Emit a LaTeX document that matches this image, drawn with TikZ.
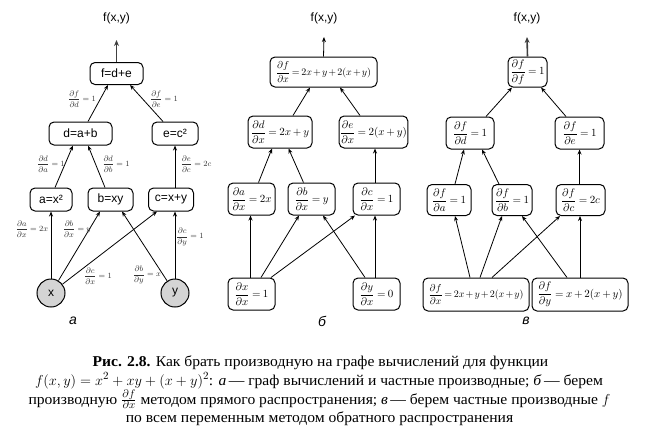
\documentclass[tikz,border=0pt]{standalone}
\usepackage{fontspec}
\usepackage{amsmath}
\usetikzlibrary{arrows.meta,calc}
\newfontfamily\boxfont{Liberation Sans}
\newfontfamily\capfont[FakeStretch=1.04]{Liberation Serif}
\newcommand{\mspcset}{\medmuskip=3mu\relax\thickmuskip=4mu\relax}
\newcommand{\mspctight}{\medmuskip=2mu\relax\thickmuskip=3mu\relax}
\tikzset{
 nbox/.style={draw, line width=1pt, rounded corners=5pt, inner sep=1pt, align=center},
 abox/.style={nbox, font=\boxfont\fontsize{12}{14}\selectfont, minimum height=23pt},
 mbox/.style={nbox, font={\fontsize{10.5}{12}\selectfont\mspcset}, minimum height=32pt},
 wbox/.style={mbox, font={\fontsize{10}{12}\selectfont\mspctight}},
 vcirc/.style={circle, draw, line width=1pt, fill=black!17, minimum size=28pt, inner sep=0pt, font=\boxfont\fontsize{12}{14}\selectfont},
 edge/.style={-{Stealth[length=5pt,width=4pt]}, line width=0.8pt},
 topedge/.style={-{Stealth[length=6pt,width=5pt]}, line width=1.6pt, black!75},
 elab/.style={font=\fontsize{8.5}{9}\selectfont, text=black!80, inner sep=0pt},
 ttl/.style={font=\boxfont\fontsize{12}{14}\selectfont},
 plab/.style={font=\boxfont\itshape\fontsize{14}{16}\selectfont},
 capline/.style={font=\capfont\fontsize{15}{16}\selectfont, inner sep=0pt, anchor=base}
}
\begin{document}
\begin{tikzpicture}[x=1pt,y=-1pt]
\useasboundingbox (0,0) rectangle (648,437);
% ---------------- panel a
\node[ttl] (tA) at (116.5,18) {f(x,y)};
\coordinate (uA) at (116.5,40);
\node[abox, minimum width=53pt, minimum height=22pt] (fA) at (116.5,73.5) {f=d+e};
\node[abox, minimum width=63pt] (dA) at (80.5,133.5) {d=a+b};
\node[abox, minimum width=46pt] (eA) at (175,133.5) {e=c²};
\node[abox, minimum width=42pt] (aA) at (51,199.5) {a=x²};
\node[abox, minimum width=45pt] (bA) at (110.5,199.5) {b=xy};
\node[abox, minimum width=45pt] (cA) at (171,199.5) {c=x+y};
\node[vcirc] (xA) at (51,293) {x};
\node[vcirc] (yA) at (175,293) {y};
\node[plab] (pA) at (73,321) {а};

\draw[topedge] (fA.north) -- (uA);
\draw[edge] ($(dA.north)+(7.5,0)$) -- ($(fA.south)+(-8.5,0)$);
\draw[edge] ($(eA.north)+(-12,0)$) -- ($(fA.south)+(13.5,0)$);
\draw[edge] ($(aA.north)+(4,0)$) -- ($(dA.south)+(-7.5,0)$);
\draw[edge] ($(bA.north)+(-5.5,0)$) -- ($(dA.south)+(7.5,0)$);
\draw[edge] ($(cA.north)+(4,0)$) -- (eA.south);
\draw[edge] (xA.north) -- (aA.south);
\draw[edge] (xA) -- ($(bA.south)+(-10.5,0)$);
\draw[edge] (xA) -- ($(cA.south)+(-14,0)$);
\draw[edge] (yA) -- ($(bA.south)+(11.5,0)$);
\draw[edge] (yA.north) -- ($(cA.south)+(4,0)$);

\node[elab] (l1) at (82,99) {$\dfrac{\partial f}{\partial d}=1$};
\node[elab] (l2) at (164,99) {$\dfrac{\partial f}{\partial e}=1$};
\node[elab] (l3) at (51,164) {$\dfrac{\partial d}{\partial a}=1$};
\node[elab] (l4) at (116,164) {$\dfrac{\partial d}{\partial b}=1$};
\node[elab] (l5) at (196,164) {$\dfrac{\partial e}{\partial c}=2c$};
\node[elab] (l6) at (32,229) {$\dfrac{\partial a}{\partial x}=2x$};
\node[elab] (l7) at (77,229) {$\dfrac{\partial b}{\partial x}=y$};
\node[elab] (l8) at (190,237) {$\dfrac{\partial c}{\partial y}=1$};
\node[elab] (l9) at (98,276) {$\dfrac{\partial c}{\partial x}=1$};
\node[elab] (l10) at (147,275) {$\dfrac{\partial b}{\partial y}=x$};

% ---------------- panel b
\node[ttl] (tB) at (324,18) {f(x,y)};
\coordinate (uB) at (324,37);
\node[wbox, minimum width=107pt, minimum height=30pt] (fB) at (323.5,72) {$\dfrac{\partial f}{\partial x}=2x+y+2(x+y)$};
\node[mbox, minimum width=64pt] (dB) at (280,132) {$\dfrac{\partial d}{\partial x}=2x+y$};
\node[mbox, minimum width=63pt] (eB) at (373.5,132) {$\dfrac{\partial e}{\partial x}=2(x+y)$};
\node[mbox, minimum width=47pt] (aB) at (251.5,199) {$\dfrac{\partial a}{\partial x}=2x$};
\node[mbox, minimum width=47pt] (bB) at (311.5,199) {$\dfrac{\partial b}{\partial x}=y$};
\node[mbox, minimum width=47pt] (cB) at (376.5,199) {$\dfrac{\partial c}{\partial x}=1$};
\node[mbox, minimum width=47pt] (xB) at (251.5,294) {$\dfrac{\partial x}{\partial x}=1$};
\node[mbox, minimum width=47pt] (yB) at (376.5,294) {$\dfrac{\partial y}{\partial x}=0$};
\node[plab] (pB) at (322,321) {б};

\draw[edge] (fB.north) -- (uB);
\draw[edge] ($(dB.north)+(13,0)$) -- ($(fB.south)+(-13.5,0)$);
\draw[edge] ($(eB.north)+(-13.5,0)$) -- ($(fB.south)+(16.5,0)$);
\draw[edge] ($(aB.north)+(7,0)$) -- ($(dB.south)+(-8,0)$);
\draw[edge] ($(bB.north)+(-8,0)$) -- ($(dB.south)+(8.5,0)$);
\draw[edge] ($(cB.north)+(-1.5,0)$) -- ($(eB.south)+(1.5,0)$);
\draw[edge] ($(xB.north)+(-1,0)$) -- ($(aB.south)+(-1,0)$);
\draw[edge] ($(xB.north)+(9.5,0)$) -- ($(bB.south)+(-12.5,0)$);
\draw[edge] ($(xB.north)+(19.5,0)$) -- ($(cB.south)+(-21.5,0)$);
\draw[edge] ($(yB.north)+(-11.5,0)$) -- ($(bB.south)+(11.5,0)$);
\draw[edge] ($(yB.north)+(-1.5,0)$) -- ($(cB.south)+(-1.5,0)$);

% ---------------- panel c
\node[ttl] (tC) at (527,18) {f(x,y)};
\coordinate (uC) at (527,37);
\node[mbox, minimum width=39pt, minimum height=30pt] (fC) at (527.5,72) {$\dfrac{\partial f}{\partial f}=1$};
\node[mbox, minimum width=48pt] (dC) at (470,133) {$\dfrac{\partial f}{\partial d}=1$};
\node[mbox, minimum width=49pt] (eC) at (579.5,133) {$\dfrac{\partial f}{\partial e}=1$};
\node[mbox, minimum width=44pt, minimum height=31pt] (aC) at (449,200) {$\dfrac{\partial f}{\partial a}=1$};
\node[mbox, minimum width=40pt, minimum height=31pt] (bC) at (512,200) {$\dfrac{\partial f}{\partial b}=1$};
\node[mbox, minimum width=49pt, minimum height=31pt] (cC) at (580.5,200) {$\dfrac{\partial f}{\partial c}=2c$};
\node[wbox, minimum width=106pt, minimum height=33pt] (xC) at (476,294.5) {$\dfrac{\partial f}{\partial x}=2x+y+2(x+y)$};
\node[mbox, minimum width=96pt, minimum height=33pt] (yC) at (580,294.5) {$\dfrac{\partial f}{\partial y}=x+2(x+y)$};
\node[plab] (pC) at (526,321) {в};

\draw[topedge] (fC.north) -- (uC);
\draw[edge] ($(dC.north)+(16,0)$) -- ($(fC.south)+(-15.5,0)$);
\draw[edge] ($(eC.north)+(-13.5,0)$) -- ($(fC.south)+(13.5,0)$);
\draw[edge] ($(aC.north)+(6,0)$) -- ($(dC.south)+(-6,0)$);
\draw[edge] ($(bC.north)+(-13,0)$) -- ($(dC.south)+(12,0)$);
\draw[edge] ($(cC.north)+(-1,0)$) -- (eC.south);
\draw[edge] ($(xC.north)+(-6,0)$) -- ($(aC.south)+(6,0)$);
\draw[edge] ($(xC.north)+(4,0)$) -- ($(bC.south)+(-10,0)$);
\draw[edge] ($(xC.north)+(16,0)$) -- ($(cC.south)+(-20.5,0)$);
\draw[edge] ($(yC.north)+(-13,0)$) -- ($(bC.south)+(10,0)$);
\draw[edge] (yC.north) -- ($(cC.south)+(-0.5,0)$);

% ---------------- caption
\node[capline] (c1) at (320.5,366) {\textbf{Рис. 2.8.} Как брать производную на графе вычислений для функции};
\node[capline] (c2) at (319,385) {$f(x,y)=x^2+xy+(x+y)^2$: \textit{а}\,— граф вычислений и частные производные; \textit{б}\,— берем};
\node[capline] (c3) at (319.5,404) {производную $\frac{\partial f}{\partial x}$ методом прямого распространения; \textit{в}\,— берем частные производные $f$};
\node[capline] (c4) at (319.5,422) {по всем переменным методом обратного распространения};
\end{tikzpicture}
\end{document}
